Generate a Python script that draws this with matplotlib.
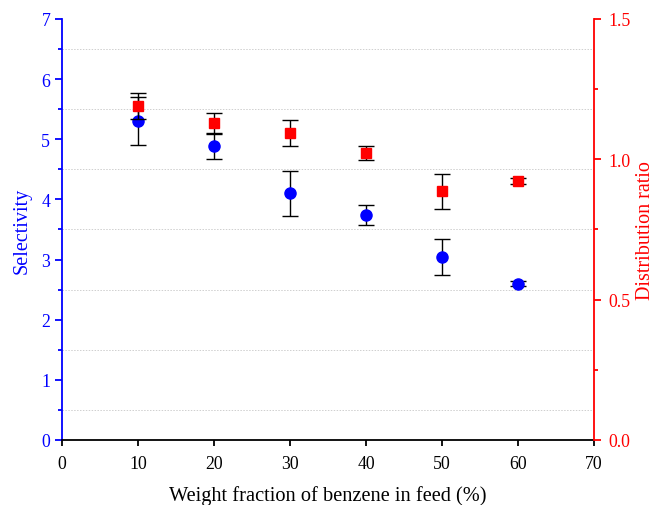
import numpy as np
import matplotlib.pyplot as plt
from matplotlib.ticker import MultipleLocator

plt.rcParams['font.family'] = ['Liberation Serif', 'DejaVu Serif']

# 数据
feed = [10, 20, 30, 40, 50, 60]
selectivity = [5.31, 4.88, 4.10, 3.74, 3.05, 2.60]
selectivity_err = [0.40, 0.20, 0.38, 0.17, 0.30, 0.04]
ratio = [1.19, 1.13, 1.095, 1.022, 0.886, 0.922]
ratio_err = [0.045, 0.035, 0.046, 0.026, 0.062, 0.010]

fig = plt.figure(figsize=(6.54, 5.06), dpi=100)
ax = fig.add_axes([0.095, 0.1285, 0.813, 0.832])
ax2 = ax.twinx()

# 左轴: 选择性
ax.errorbar(feed, selectivity, yerr=selectivity_err, fmt='o', color='blue',
            markersize=8, ecolor='black', elinewidth=1, capsize=5.5, capthick=1, zorder=3)
# 右轴: 分配比
ax2.errorbar(feed, ratio, yerr=ratio_err, fmt='s', color='red',
             markersize=7, ecolor='black', elinewidth=1, capsize=5.5, capthick=1, zorder=3)

ax.set_xlim(0, 70)
ax.set_ylim(0, 7)
ax2.set_ylim(0, 1.5)
ax.xaxis.set_major_locator(MultipleLocator(10))
ax.yaxis.set_major_locator(MultipleLocator(1))
ax.yaxis.set_minor_locator(MultipleLocator(0.5))
ax2.yaxis.set_major_locator(MultipleLocator(0.5))
ax2.yaxis.set_minor_locator(MultipleLocator(0.25))
ax2.yaxis.set_major_formatter(plt.FormatStrFormatter('%.1f'))

# 网格线 (只在半格)
for y in np.arange(0.5, 7, 1.0):
    ax.axhline(y, color='#cfcfcf', linestyle=(0, (1.5, 1.5)), linewidth=0.7, zorder=0)

for a in (ax, ax2):
    a.spines['top'].set_visible(False)
    for s in a.spines.values():
        s.set_linewidth(1.3)
ax.spines['left'].set_color('blue')
ax.spines['right'].set_visible(False)
ax2.spines['left'].set_visible(False)
ax2.spines['right'].set_color('red')
ax2.spines['bottom'].set_visible(False)

ax.tick_params(axis='y', which='both', colors='blue', direction='out', labelsize=12.8)
ax.tick_params(axis='y', which='major', length=5, width=1.3)
ax.tick_params(axis='y', which='minor', length=3, width=1.3)
ax.tick_params(axis='x', which='major', length=4, width=1.3, labelsize=12.8, pad=7)
ax2.tick_params(axis='y', which='both', colors='red', direction='out', labelsize=12.8, pad=5.5)
ax2.tick_params(axis='y', which='major', length=5, width=1.3)
ax2.tick_params(axis='y', which='minor', length=3, width=1.3)

ax.set_xlabel('Weight fraction of benzene in feed (%)', fontsize=14.7, labelpad=9)
ax.set_ylabel('Selectivity', fontsize=14.5, color='blue', labelpad=7)
ax2.set_ylabel('Distribution ratio', fontsize=14.5, color='red', labelpad=4)

plt.savefig('out.png', dpi=100)
